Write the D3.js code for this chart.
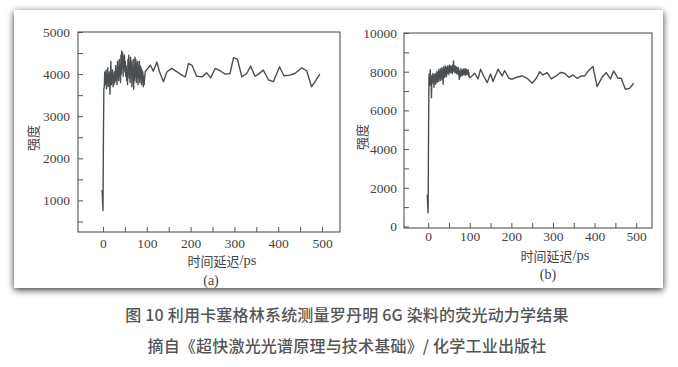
<!DOCTYPE html>
<html><head><meta charset="utf-8">
<script src="https://cdn.jsdelivr.net/npm/d3@7"></script>
<style>body{margin:0;background:#fff}</style>
</head><body>
<svg id="chart" width="678" height="367"></svg>
<script>
// ---------- data (a) ----------
const timeA = [-2,-1,0,1,2,3,4,5,6,7,8,9,10,11,12,13,14,15,16,17,18,19,20,21,22,23,24,25,26,27,28,29,30,
  31,32,33,34,35,36,37,38,39,40,41,42,43,44,45,46,47,48,49,50,51,52,53,54,55,56,57,58,59,60,
  61,62,63,64,65,66,67,68,69,70,71,72,73,74,75,76,77,78,79,80,81,82,83,84,85,86,87,88,89,90,
  91,92,93,94,95,96.5,108,115,123,129,138,146,157,169,180,188,195,203,214,226,237,246,256,267,279,
  290,298,307,317,328,337,347,355,366,378,389,403,413,427,438,454,465,476,484,495];
const intensityA = [1250,1000,760,2500,3650,3700,4050,3750,3900,4100,3650,4000,3800,4150,3700,3950,3850,4050,3520,3900,4300,3750,4000,3850,4100,3700,3950,3750,4050,3800,3900,4200,3850,
  4050,3750,4300,3900,4150,3850,4350,3950,4250,3800,4450,4000,4550,4200,4500,3950,4400,4150,4450,4050,4300,3950,4200,3850,4100,3750,4350,4000,4450,3900,
  4250,3800,4400,4050,4300,3700,4150,3900,4350,3640,4200,3850,4400,3950,4350,3800,4250,3900,4300,3750,4150,3950,4300,3800,4200,3900,4150,3750,4100,3850,
  4050,3700,3950,3750,3900,4055,4215,4070,4290,4055,3820,4055,4135,4055,3975,3935,4250,4215,3950,3935,4030,3910,4135,4080,4000,
  4015,4390,4350,3935,4015,4190,3950,4000,4095,3860,3820,4175,3960,3975,4015,4150,4080,3700,3820,4000];
const xTicksA = [0,50,100,150,200,250,300,350,400,450,500];
const xLabelsA = [0,100,200,300,400,500];
const yTicksA = [500,1000,1500,2000,2500,3000,3500,4000,4500,5000];
const yLabelsA = [1000,2000,3000,4000,5000];

// ---------- data (b) ----------
const timeB = [-2,-1,0,1,2,3,4,5,6,7,8,9,10,11,12,13,14,15,16,17,18,19,20,21,22,23,24,25,26,27,28,29,30,
  31,32,33,34,35,36,37,38,39,40,41,42,43,44,45,46,47,48,49,50,51,52,53,54,55,56,57,58,59,60,
  61,62,63,64,65,66,67,68,69,70,71,72,73,74,75,76,77,78,79,80,81,82,83,84,85,86,87,88,89,90,
  91,92,93,94,95,96,97,98,99,104,112,120,126,134,142,150,156,168,178,184,194,202,212,226,238,250,260,268,276,
  286,296,308,318,328,338,348,358,368,376,386,396,406,418,428,438,446,456,464,474,484,494];
const intensityB = [1650,1100,700,5000,7700,7900,7300,8100,7500,7800,6650,7700,7400,7900,7550,7750,7200,7850,7500,7900,7350,7800,7600,8000,7450,7950,7650,8100,7500,7900,7700,8150,7550,
  8000,7750,8200,7600,8050,7350,8250,7800,8100,7700,8300,7850,8200,7750,8250,7900,8300,7950,8150,7850,8350,8000,8250,7950,8300,8050,8200,7900,8350,8000,
  8550,8100,8250,7950,8300,8050,8200,7900,8250,8000,8100,7850,8200,7950,7600,7900,8050,7750,8150,7850,8000,7800,8100,7950,7850,8150,7900,8050,7800,8150,
  7950,8100,7850,8050,7900,8100,7800,7950,7700,7750,7920,7625,8130,7750,7435,7885,7490,8130,7780,8060,7660,7610,7710,7780,7660,7400,7660,8000,7830,
  7955,7625,7780,7955,7920,7710,7830,7660,7780,7780,8060,8270,7230,7710,7955,7625,8040,7660,7660,7090,7140,7400];
const xTicksB = [0,50,100,150,200,250,300,350,400,450,500];
const xLabelsB = [0,100,200,300,400,500];
const yTicksB = [0,1000,2000,3000,4000,5000,6000,7000,8000,9000,10000];
const yLabelsB = [0,2000,4000,6000,8000,10000];

const yTitle = "强度";
const xTitle = "时间延迟";
const xUnit = "/ps";
const captionLines = ["图 10 利用卡塞格林系统测量罗丹明 6G 染料的荧光动力学结果",
                      "摘自《超快激光光谱原理与技术基础》/ 化学工业出版社"];

// ---------- drawing ----------
const svg = d3.select("#chart");
const defs = svg.append("defs");
const f = defs.append("filter").attr("id","sh").attr("x","-5%").attr("y","-10%").attr("width","110%").attr("height","120%");
f.append("feDropShadow").attr("dx",0).attr("dy",2).attr("stdDeviation",3.5)
  .attr("flood-color","#000").attr("flood-opacity",0.8);

svg.append("rect").attr("x",14).attr("y",10).attr("width",649).attr("height",278)
  .attr("fill","#fff").attr("filter","url(#sh)");

const serif = "Liberation Serif, DejaVu Serif, serif";
const cjk = "Noto Sans CJK SC, Noto Sans, sans-serif";
const ink = "#444";

function panel(o){
  const x = d3.scaleLinear().domain(o.xDomain).range([o.left,o.right]);
  const y = d3.scaleLinear().domain(o.yDomain).range([o.bottom,o.top]);
  const g = svg.append("g");

  const ax = g.append("g").attr("transform",`translate(0,${o.bottom})`)
    .call(d3.axisBottom(x).tickValues(o.xTicks).tickSizeInner(-5).tickSizeOuter(0)
      .tickPadding(o.xPad).tickFormat(d => o.xLabels.includes(d) ? String(d) : ""));
  const ay = g.append("g").attr("transform",`translate(${o.left},0)`)
    .call(d3.axisLeft(y).tickValues(o.yTicks).tickSizeInner(-5).tickSizeOuter(0)
      .tickPadding(o.yPad).tickFormat(d => o.yLabels.includes(d) ? String(d) : ""));
  [ax,ay].forEach(a=>{
    a.attr("font-family",serif).attr("font-size",13.5);
    a.select(".domain").remove();
    a.selectAll("line").attr("stroke","#555").attr("stroke-width",1);
    a.selectAll("text").attr("fill",ink).attr("font-family",serif).style("font-family",serif).style("font-size","13.5px");
  });

  g.append("rect").attr("x",o.left).attr("y",o.top)
    .attr("width",o.right-o.left).attr("height",o.bottom-o.top)
    .attr("fill","none").attr("stroke","#555").attr("stroke-width",1.1);

  const line = d3.line().x((d,i)=>x(o.t[i])).y(d=>y(d));
  g.append("path").datum(o.v).attr("d",line).attr("fill","none")
    .attr("stroke","#4a4f53").attr("stroke-width",1.4).attr("stroke-linejoin","round");

  g.append("text").attr("transform",`translate(${o.yTitleX},${o.yTitleY}) rotate(-90)`)
    .attr("text-anchor","middle").attr("dominant-baseline","central")
    .style("font-family",cjk).style("font-size","13px").attr("fill",ink).text(yTitle);

  const xt = g.append("text").attr("x",o.xTitleX).attr("y",o.xTitleY).attr("text-anchor","middle")
    .attr("dominant-baseline","central").attr("fill",ink);
  xt.append("tspan").style("font-family",cjk).style("font-size","13px").text(xTitle);
  xt.append("tspan").style("font-family",serif).style("font-size","14.5px").text(xUnit);

  g.append("text").attr("x",o.tagX).attr("y",o.tagY).attr("text-anchor","middle")
    .attr("dominant-baseline","central").style("font-family",serif).style("font-size","14px")
    .attr("fill",ink).text(o.tag);
}

panel({xDomain:[-57,541], yDomain:[250,5000], left:78, right:340, top:32, bottom:232,
  xTicks:xTicksA, xLabels:xLabelsA, yTicks:yTicksA, yLabels:yLabelsA, xPad:6, yPad:8,
  t:timeA, v:intensityA, yTitleX:32, yTitleY:138, xTitleX:222, xTitleY:259.5, tag:"(a)", tagX:211, tagY:280});

panel({xDomain:[-58,538], yDomain:[-80,10000], left:404, right:652, top:33, bottom:228,
  xTicks:xTicksB, xLabels:xLabelsB, yTicks:yTicksB, yLabels:yLabelsB, xPad:3, yPad:7,
  t:timeB, v:intensityB, yTitleX:361, yTitleY:137, xTitleX:555, xTitleY:254.5, tag:"(b)", tagX:548, tagY:274});

svg.selectAll("text.cap").data(captionLines).join("text").attr("class","cap")
  .attr("x",347).attr("y",(d,i)=>314+i*31).attr("text-anchor","middle")
  .attr("dominant-baseline","central").style("font-family",cjk).style("font-size","16px")
  .style("font-weight","500").style("letter-spacing","0.2px").attr("fill","#555").text(d=>d);
</script>
</body></html>
